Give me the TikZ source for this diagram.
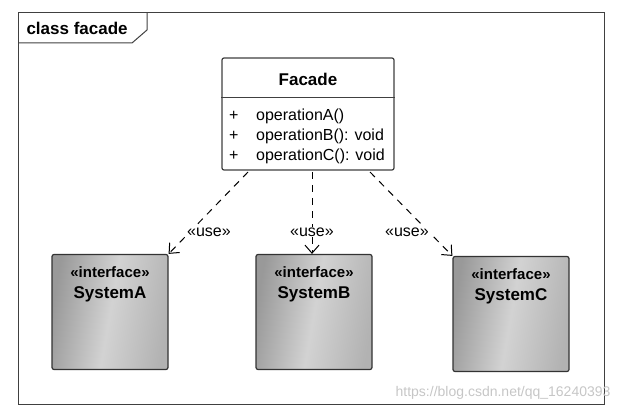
\documentclass[tikz,border=0pt]{standalone}
\usepackage{fontspec}
\setmainfont{Liberation Sans}
\usepackage{tikz}
\usetikzlibrary{arrows.meta, positioning, shadows}
\definecolor{myframe}{rgb}{0.25, 0.25, 0.25}
\definecolor{myiface}{rgb}{0.45, 0.45, 0.45}
\tikzstyle{classbox} = [draw=myframe, line width=1.2pt, rounded corners=2pt, fill=white, minimum width=172pt, minimum height=112pt]
\tikzstyle{iface} = [draw=black!80, line width=1.2pt, rounded corners=2pt, minimum width=116pt, minimum height=115pt, left color=gray!80, right color=gray!60, middle color=gray!35, shading angle=80]
\tikzstyle{uses} = [line width=1pt, dash pattern=on 7pt off 6pt, -{Straight Barb[length=8pt, width=14pt]}]
\tikzstyle{stereo} = [fill=white, inner sep=1pt, font=\fontsize{16}{18}\selectfont]
\tikzstyle{op} = [anchor=west, inner sep=0pt, font=\fontsize{16}{18}\selectfont]

\begin{document}
\begin{tikzpicture}[x=1pt, y=-1pt]
    \useasboundingbox (0,0) rectangle (625,412);
    % frame and title tab
    \draw[line width=1pt, myframe] (18,13) rectangle (604,404);
    \draw[line width=1pt, myframe] (18,43) -- (132,43) -- (147,30) -- (147,13);
    \node[anchor=west, font=\bfseries\fontsize{17}{19}\selectfont] (title) at (23,28) {class facade};
    % the facade class
    \node[classbox] (facade) at (308,114) {};
    \node[below=12pt of facade.north, font=\bfseries\fontsize{17}{19}\selectfont] (fname) {Facade};
    \draw[line width=1pt, myframe] ([yshift=-40pt]facade.north west) -- ([yshift=-40pt]facade.north east);
    \foreach \y/\n/\t in {116/opa/operationA(), 136/opb/operationB(): void, 156/opc/operationC(): void} {
        \node[op] (plus\n) at (229,\y) {+};
        \node[op] (\n) at (256,\y) {\t};
    }
    % the interfaces
    \node[iface] (sysa) at (110,312) {};
    \node[iface] (sysb) at (314,312) {};
    \node[iface] (sysc) at (511,314) {};
    \foreach \s/\t in {sysa/SystemA, sysb/SystemB, sysc/SystemC} {
        \node[below=13pt of \s.north, inner sep=0pt, font=\bfseries\fontsize{15}{17}\selectfont] (\s st) {«interface»};
        \node[below=8pt of \s st, inner sep=0pt, font=\bfseries\fontsize{17}{19}\selectfont] (\s nm) {\t};
    }
    % dependencies
    \coordinate (fa) at (248,172);
    \coordinate (fb) at (312,172);
    \coordinate (fc) at (370,172);
    \draw[uses] (fa) -- (sysa.north east);
    \draw[uses] (fb) -- (sysb.north -| fb);
    \draw[uses] (fc) -- (sysc.north west);
    \node[stereo] (usea) at (209,232) {«use»};
    \node[stereo] (useb) at (312,232) {«use»};
    \node[stereo] (usec) at (407,232) {«use»};
    \node[anchor=east, text=gray!45, font=\fontsize{14}{16}\selectfont] (mark) at (614,393) {https://blog.csdn.net/qq\_16240393};
\end{tikzpicture}
\end{document}
